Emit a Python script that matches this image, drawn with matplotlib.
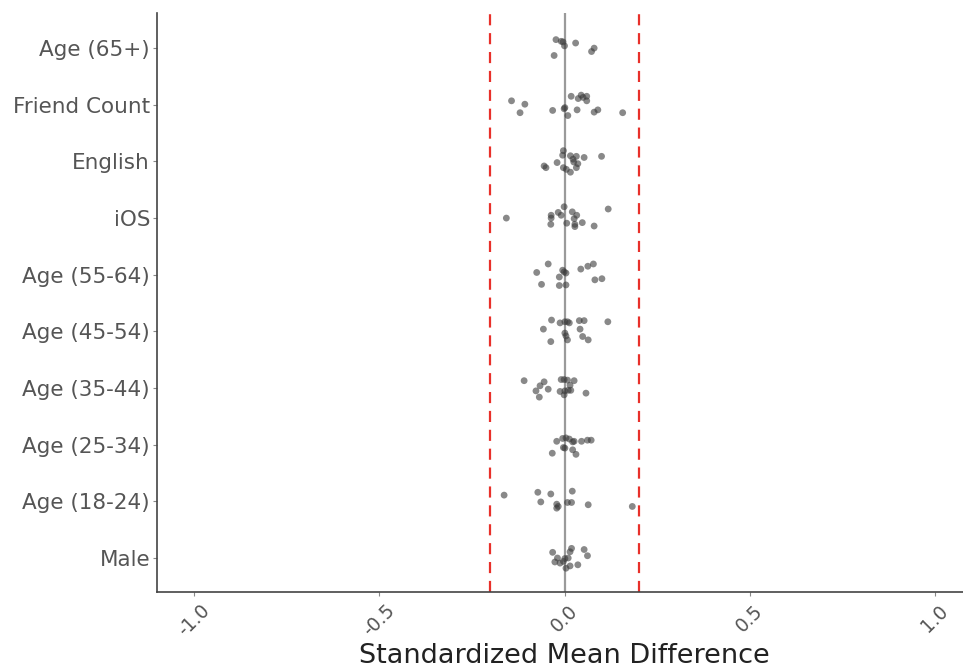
import matplotlib
matplotlib.use("Agg")
import matplotlib.pyplot as plt

categories = ["Age (65+)", "Friend Count", "English", "iOS", "Age (55-64)",
              "Age (45-54)", "Age (35-44)", "Age (25-34)", "Age (18-24)", "Male"]

# standardized mean differences per covariate, with vertical jitter offsets
smd = {
    "Age (65+)": [-0.023, -0.009, 0.000, 0.030, -0.028, 0.073, 0.080, -0.004],
    "Friend Count": [-0.143, -0.107, -0.120, -0.032, -0.001, 0.001, 0.009, 0.034, 0.018,
                     0.037, 0.045, 0.060, 0.060, 0.050, 0.080, 0.090, 0.157],
    "English": [-0.003, -0.005, 0.016, 0.032, 0.053, 0.100, 0.023, -0.020, -0.055, -0.050,
                0.036, 0.032, -0.003, 0.005, 0.016, 0.025],
    "iOS": [-0.001, -0.017, -0.009, -0.036, -0.036, -0.037, 0.021, 0.033, 0.026, 0.006,
            0.028, 0.028, 0.048, 0.080, 0.118, -0.157],
    "Age (55-64)": [-0.044, -0.075, -0.005, 0.004, -0.001, -0.014, -0.062, -0.014, 0.004,
                    0.044, 0.063, 0.078, 0.082, 0.101],
    "Age (45-54)": [-0.035, -0.012, 0.001, 0.008, 0.013, -0.057, 0.001, 0.004, 0.008, -0.037,
                    0.040, 0.053, 0.042, 0.117, 0.049, 0.064],
    "Age (35-44)": [-0.109, -0.055, -0.066, -0.077, -0.044, -0.068, -0.009, -0.001, 0.008,
                    0.026, 0.015, -0.012, 0.001, 0.010, 0.017, -0.001, 0.058],
    "Age (25-34)": [-0.021, -0.005, 0.004, 0.013, 0.022, 0.026, 0.046, 0.062, 0.072, -0.003,
                    0.001, 0.022, 0.031, -0.033],
    "Age (18-24)": [-0.163, -0.072, -0.037, 0.021, -0.064, -0.021, -0.017, -0.021, 0.008,
                    0.019, 0.064, 0.183],
    "Male": [-0.032, 0.019, 0.015, 0.053, 0.062, -0.019, 0.001, 0.010, -0.026, -0.012,
             0.004, 0.015, 0.036, -0.003],
}
jitter = {
    "Age (65+)": [-0.15, -0.12, -0.04, -0.09, 0.13, 0.06, 0.00, -0.11],
    "Friend Count": [-0.07, -0.01, 0.14, 0.10, 0.07, 0.05, 0.19, 0.09, -0.15,
                     -0.11, -0.17, -0.15, -0.07, -0.13, 0.13, 0.09, 0.14],
    "English": [-0.19, -0.11, -0.10, -0.09, -0.07, -0.09, -0.04, 0.02, 0.08, 0.11,
                0.04, 0.11, 0.11, 0.14, 0.19, 0.01],
    "iOS": [-0.20, -0.10, -0.05, -0.05, 0.00, 0.11, -0.11, -0.05, 0.01, 0.09,
            0.11, 0.15, 0.08, 0.14, -0.16, 0.00],
    "Age (55-64)": [-0.19, -0.04, -0.08, -0.03, -0.05, 0.04, 0.17, 0.19, 0.18,
                    -0.10, -0.15, -0.19, 0.09, 0.07],
    "Age (45-54)": [-0.20, -0.15, -0.17, -0.17, -0.15, -0.04, 0.03, 0.08, 0.15, 0.18,
                    -0.19, -0.19, -0.04, -0.17, 0.09, 0.15],
    "Age (35-44)": [-0.13, -0.11, -0.04, 0.05, 0.02, 0.16, -0.15, -0.15, -0.14,
                    -0.13, -0.05, 0.06, 0.05, 0.04, 0.04, 0.12, 0.09],
    "Age (25-34)": [-0.06, -0.11, -0.12, -0.10, -0.05, -0.06, -0.06, -0.08, -0.08, 0.05,
                    0.06, 0.09, 0.17, 0.15],
    "Age (18-24)": [-0.11, -0.16, -0.13, -0.18, 0.01, 0.05, 0.09, 0.12, 0.02,
                    0.02, 0.06, 0.09],
    "Male": [-0.10, -0.17, -0.11, -0.15, -0.04, 0.00, 0.01, 0.00, 0.07, 0.09,
             0.18, 0.14, 0.12, 0.06],
}
threshold = 0.2
xticks = [-1.0, -0.5, 0.0, 0.5, 1.0]

fig = plt.figure(figsize=(9.63, 6.69), dpi=100)
ax = fig.add_axes([157 / 963, 77 / 669, (972 - 157) / 963, (592 - 13) / 669])

for i, cat in enumerate(categories):
    xs = smd[cat]
    ys = [i + j for j in jitter[cat]]
    ax.scatter(xs, ys, s=24, color="#3a3a3a", alpha=0.6, edgecolors="none", zorder=3)

ax.axvline(0, color="#9a9a9a", lw=1.6, zorder=2)
ax.axvline(-threshold, color="#e8302a", lw=1.6, ls=(0, (5, 3.5)), zorder=2)
ax.axvline(threshold, color="#e8302a", lw=1.6, ls=(0, (5, 3.5)), zorder=2)

ax.set_xlim(-1.1, 1.1)
ax.set_ylim(9.6, -0.62)
ax.set_yticks(range(len(categories)))
ax.set_yticklabels(categories)
ax.set_xticks(xticks)
ax.set_xticklabels([f"{t:.1f}" for t in xticks], rotation=45)

ax.tick_params(axis="y", labelsize=15.5, labelcolor="#555555", length=3, pad=2, color="#888888")
ax.tick_params(axis="x", labelsize=13.5, labelcolor="#555555", length=3, color="#888888")
for s in ["top", "right"]:
    ax.spines[s].set_visible(False)
for s in ["left", "bottom"]:
    ax.spines[s].set_color("#444444")
    ax.spines[s].set_linewidth(1.2)

ax.set_xlabel("Standardized Mean Difference", fontsize=19.5, color="#222222", labelpad=2)

fig.savefig("out.png", dpi=100)
